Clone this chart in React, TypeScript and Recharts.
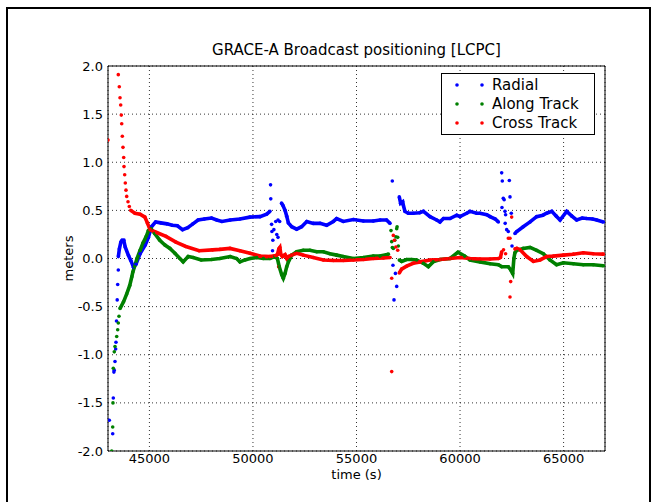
import React from 'react';
import { ComposedChart, Line, Scatter, XAxis, YAxis, CartesianGrid, ReferenceLine, Legend } from 'recharts';

type Pt = [number, number];

const X_TICKS = [45000, 50000, 55000, 60000, 65000];
const Y_TICKS = [-2, -1.5, -1, -0.5, 0, 0.5, 1, 1.5, 2];

// Radial: isolated samples (convergence + jumps) and the continuous runs
const radialDots: Pt[] = [
  [43063, -1.68], [43227, -1.82], [43256, -1.45], [43285, -1.18], [43300, -1.16], [43338, -1.07],
  [43370, -0.94], [43386, -0.87], [43410, -0.65], [43445, -0.43], [43468, -0.27], [43497, -0.12],
  [50850, 0.765], [50860, 0.62], [50900, 0.355], [50915, 0.28], [50960, 0.19], [50945, 0.08],
  [51010, 0.3], [51100, 0.385], [51150, 0.25], [51210, 0.4], [51210, 0.22], [51290, 0.385],
  [56729, 0.805], [56760, -0.07], [56811, -0.43], [56880, -0.155], [56941, -0.29],
  [62011, 0.89], [62025, 0.53], [62040, 0.805], [62088, 0.625], [62130, 0.61], [62170, 0.49],
  [62200, 0.455], [62180, 0.365], [62252, 0.3], [62330, 0.28], [62380, 0.81], [62412, 0.64],
  [62475, 0.47], [62510, 0.13],
];
const radialTrack1: Pt[] = [
  [43500, 0.02], [43550, 0.1], [43620, 0.17], [43680, 0.19], [43760, 0.19], [43830, 0.12],
  [43990, 0.03], [44100, -0.02], [44230, -0.09], [44350, -0.06], [44550, 0.05], [44800, 0.14],
  [44950, 0.22], [45100, 0.33], [45300, 0.38], [45550, 0.37], [45850, 0.36], [46100, 0.345],
  [46350, 0.34], [46600, 0.3], [46850, 0.32], [47100, 0.36], [47350, 0.4], [47650, 0.41],
  [48000, 0.42], [48250, 0.4], [48500, 0.385], [48900, 0.4], [49370, 0.41], [49850, 0.43],
  [50340, 0.435], [50660, 0.46], [50820, 0.49],
];
const radialTrack2: Pt[] = [
  [51380, 0.575], [51450, 0.55], [51550, 0.5], [51630, 0.44], [51710, 0.37], [51870, 0.33],
  [52110, 0.305], [52350, 0.33], [52600, 0.385], [52910, 0.365], [53240, 0.365], [53560, 0.345],
  [53880, 0.385], [54040, 0.415], [54360, 0.385], [54850, 0.405], [55330, 0.39], [55810, 0.39],
  [56140, 0.4], [56450, 0.4], [56620, 0.365],
];
const radialTrack3: Pt[] = [
  [57066, 0.64], [57130, 0.575], [57230, 0.59], [57260, 0.555], [57340, 0.49], [57500, 0.47],
  [57740, 0.47], [58050, 0.475], [58230, 0.49], [58550, 0.435], [58870, 0.4], [59030, 0.38],
  [59200, 0.415], [59515, 0.415], [59840, 0.45], [60000, 0.435], [60320, 0.47], [60480, 0.49],
  [60800, 0.47], [60960, 0.47], [61290, 0.455], [61450, 0.435], [61700, 0.41], [61850, 0.38],
];
const radialTrack4: Pt[] = [
  [62650, 0.26], [62740, 0.28], [63050, 0.33], [63380, 0.38], [63700, 0.435], [64000, 0.45],
  [64180, 0.47], [64430, 0.49], [64650, 0.44], [64830, 0.4], [65150, 0.49], [65400, 0.44],
  [65630, 0.4], [65900, 0.42], [66120, 0.415], [66400, 0.41], [66600, 0.4], [66920, 0.38],
];

// Along Track
const alongDots: Pt[] = [
  [43179, -2.0], [43227, -1.75], [43240, -1.5], [43256, -1.14], [43304, -0.97], [43338, -0.915],
  [43420, -0.81], [43468, -0.74], [43497, -0.67], [43531, -0.6],
  [56666, 0.29], [56700, 0.175], [56730, 0.115], [56778, 0.105], [56850, 0.19], [56900, 0.225],
  [56941, 0.31], [56960, 0.33], [56990, 0.22], [57020, 0.13],
];
const alongTrack1: Pt[] = [
  [43580, -0.52], [43750, -0.45], [43900, -0.37], [44050, -0.28], [44150, -0.19], [44200, -0.14],
  [44280, -0.085], [44400, 0.0], [44550, 0.085], [44690, 0.16], [44850, 0.23], [44950, 0.29],
  [45080, 0.31], [45250, 0.26], [45500, 0.19], [45750, 0.14], [45990, 0.105], [46230, 0.055],
  [46470, 0.0], [46630, -0.035], [46870, 0.02], [47110, 0.01], [47500, -0.015], [47990, -0.01],
  [48400, 0.0], [48900, 0.02], [49210, 0.0], [49370, -0.035], [49610, -0.015], [49860, 0.0],
  [50180, 0.01], [50500, 0.0], [50820, 0.0], [51060, 0.02], [51180, 0.0], [51270, -0.085],
  [51390, -0.17], [51465, -0.205], [51550, -0.155], [51630, -0.085], [51710, -0.035], [51870, 0.035],
  [52110, 0.07], [52430, 0.085], [52750, 0.085], [53080, 0.07], [53400, 0.07], [53720, 0.05],
  [54040, 0.035], [54360, 0.02], [54850, 0.0], [55330, 0.01], [55810, 0.025], [56135, 0.025],
  [56540, 0.045],
];
const alongTrack2: Pt[] = [
  [57066, -0.015], [57180, -0.03], [57420, -0.01], [57660, -0.01], [57900, -0.015], [58230, -0.05],
  [58470, -0.085], [58700, -0.035], [59030, -0.01], [59515, 0.0], [59900, 0.065], [60220, 0.025],
  [60480, -0.015], [60960, -0.035], [61450, -0.055], [61850, -0.065], [62010, -0.085], [62330, -0.085],
  [62450, -0.12], [62542, -0.155], [62600, 0.0], [62650, 0.06], [62740, 0.085], [63050, 0.105],
  [63380, 0.115], [63700, 0.085], [64020, 0.05], [64340, -0.015], [64660, -0.065], [64990, -0.045],
  [65470, -0.055], [65950, -0.065], [66430, -0.065], [66920, -0.075],
];

// Cross Track
const crossDots: Pt[] = [
  [43000, 1.23], [43497, 1.91], [43546, 1.785], [43580, 1.67], [43613, 1.595], [43642, 1.49],
  [43662, 1.4], [43691, 1.27], [43724, 1.155], [43758, 1.05], [43773, 0.955], [43806, 0.87],
  [43835, 0.785], [43869, 0.71], [43903, 0.645], [43966, 0.59], [44029, 0.54],
  [51240, -0.085],
  [56700, -0.205], [56700, -1.175], [56778, 0.24], [56826, 0.19], [56900, 0.12], [56990, 0.085],
  [62100, 0.09], [62200, 0.05], [62330, 0.21], [62412, 0.21], [62493, 0.43], [62446, -0.24], [62412, -0.4],
];
const crossTrack1: Pt[] = [
  [44100, 0.5], [44300, 0.47], [44550, 0.46], [44780, 0.43], [44900, 0.37], [45030, 0.3],
  [45350, 0.27], [45800, 0.23], [46280, 0.17], [46760, 0.125], [47400, 0.08], [48050, 0.09],
  [48400, 0.095], [48890, 0.105], [49370, 0.08], [49860, 0.055], [50340, 0.025], [50820, 0.02],
  [51100, 0.03], [51180, 0.04], [51250, 0.1], [51300, 0.115], [51350, 0.04], [51420, 0.02],
  [51550, 0.04], [51630, 0.0], [51710, 0.02], [51870, 0.035], [52110, 0.055], [52430, 0.035],
  [52910, 0.01], [53400, -0.015], [53880, -0.02], [54360, -0.02], [54850, -0.015], [55330, -0.01],
  [55810, 0.0], [56300, 0.005], [56620, 0.01],
];
const crossTrack2: Pt[] = [
  [57066, -0.15], [57180, -0.11], [57420, -0.08], [57740, -0.05], [58070, -0.035], [58550, -0.015],
  [59030, -0.01], [59515, 0.0], [60000, 0.01], [60480, 0.0], [60960, -0.005], [61450, -0.005],
  [61850, 0.0], [61950, 0.01], [62010, 0.07],
];
const crossTrack3: Pt[] = [
  [62650, 0.1], [62740, 0.105], [62900, 0.09], [63220, 0.02], [63540, -0.03], [63860, -0.015],
  [64180, 0.02], [64500, 0.025], [64990, 0.035], [65470, 0.045], [65950, 0.06], [66430, 0.05],
  [66920, 0.045],
];

const SERIES = [
  { name: 'Radial', color: '#0000ff', dots: radialDots, tracks: [radialTrack1, radialTrack2, radialTrack3, radialTrack4] },
  { name: 'Along Track', color: '#008000', dots: alongDots, tracks: [alongTrack1, alongTrack2] },
  { name: 'Cross Track', color: '#ff0000', dots: crossDots, tracks: [crossTrack1, crossTrack2, crossTrack3] },
];

const FONT = 'DejaVu Sans';
const toRows = (pts: Pt[]) => pts.map(([t, v]) => ({ t, v }));

const LegendBox = () => (
  <svg width={154} height={62} style={{ display: 'block' }}>
    <rect x={0.5} y={0.5} width={153} height={61} fill="#fff" stroke="#000" />
    {SERIES.map((s, i) => {
      const y = 12 + i * 19;
      return (
        <g key={s.name}>
          <circle cx={16} cy={y} r={1.8} fill={s.color} />
          <circle cx={41} cy={y} r={1.8} fill={s.color} />
          <text x={51} y={y} dominantBaseline="central" fontSize={15} fontFamily={FONT} fill="#000">{s.name}</text>
        </g>
      );
    })}
  </svg>
);

export default function App() {
  return (
    <div style={{ position: 'absolute', left: 0, top: 0, width: 657, height: 502, overflow: 'hidden', background: '#fff' }}>
      <div style={{ position: 'absolute', left: 6, top: 7, width: 641, height: 520, border: '2px solid #000' }} />
      <div style={{ position: 'absolute', left: 108, top: 41, width: 497, textAlign: 'center', fontFamily: FONT, fontSize: 15, lineHeight: '18px', color: '#000' }}>
        GRACE-A Broadcast positioning [LCPC]
      </div>
      <div style={{ position: 'absolute', left: 0, top: 0 }}>
        <ComposedChart width={657} height={502} margin={{ top: 66, right: 52, bottom: 5, left: 28 }}>
          <CartesianGrid stroke="#000" strokeDasharray="1 3" strokeWidth={0.8} />
          <XAxis
            type="number"
            dataKey="t"
            domain={[43000, 67000]}
            ticks={X_TICKS}
            allowDataOverflow
            height={46}
            tickLine={false}
            tickSize={1}
            tickMargin={2}
            axisLine={{ stroke: '#000' }}
            tick={{ fill: '#000', fontSize: 13, fontFamily: FONT }}
            label={{ value: 'time (s)', position: 'center', fill: '#000', fontSize: 13, fontFamily: FONT }}
          />
          <YAxis
            type="number"
            dataKey="v"
            domain={[-2, 2]}
            ticks={Y_TICKS}
            allowDataOverflow
            width={80}
            tickLine={false}
            tickSize={2}
            tickMargin={3}
            axisLine={{ stroke: '#000' }}
            tickFormatter={(v: number) => v.toFixed(1)}
            tick={{ fill: '#000', fontSize: 13, fontFamily: FONT }}
            label={{ value: 'meters', angle: -90, position: 'center', fill: '#000', fontSize: 13, fontFamily: FONT }}
          />
          <ReferenceLine y={2} stroke="#000" />
          <ReferenceLine x={67000} stroke="#000" />
          {SERIES.map((s) =>
            s.tracks.map((tr, j) => (
              <Line
                key={`${s.name}-${j}`}
                data={toRows(tr)}
                dataKey="v"
                type="linear"
                stroke={s.color}
                strokeWidth={3.6}
                dot={{ r: 1.8, fill: s.color, stroke: 'none' }}
                activeDot={false}
                legendType="none"
                isAnimationActive={false}
              />
            ))
          )}
          {SERIES.map((s) => (
            <Scatter
              key={`${s.name}-dots`}
              name={s.name}
              data={toRows(s.dots)}
              fill={s.color}
              isAnimationActive={false}
              shape={(p: any) => <circle cx={p.cx} cy={p.cy} r={1.8} fill={s.color} />}
            />
          ))}
          <Legend
            layout="vertical"
            align="center"
            verticalAlign="middle"
            content={() => <LegendBox />}
            wrapperStyle={{ left: 441, top: 73, width: 154, height: 62 }}
          />
        </ComposedChart>
      </div>
    </div>
  );
}
